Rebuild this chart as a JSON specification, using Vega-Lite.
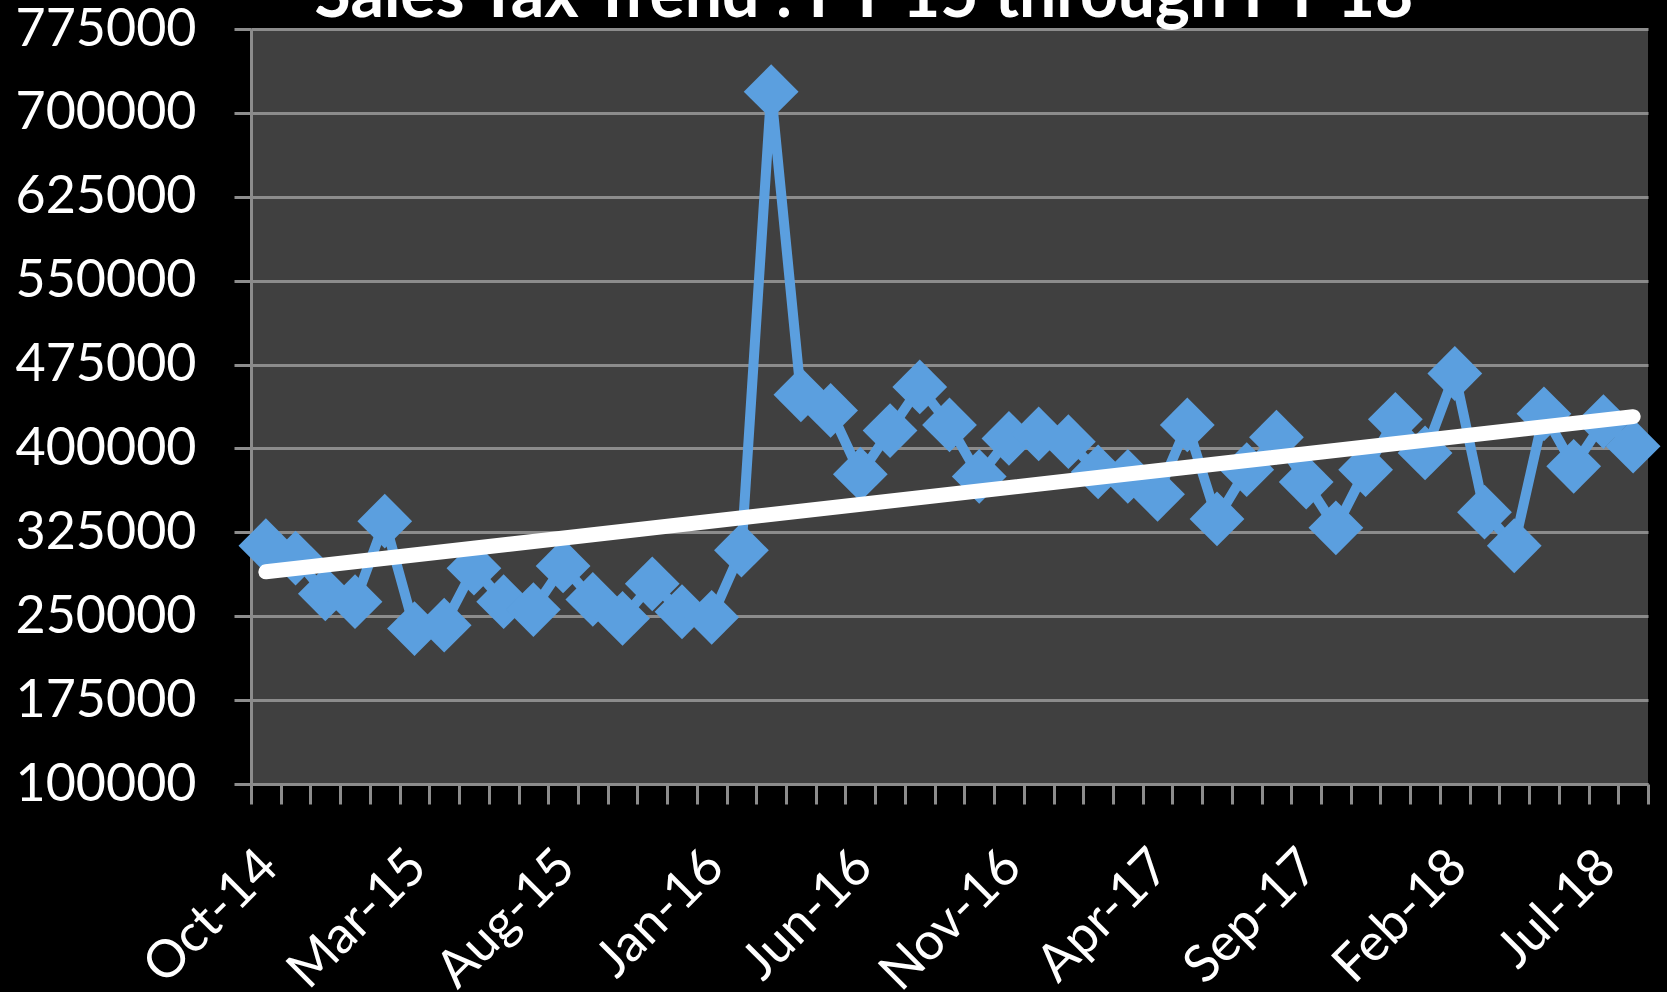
{
  "$schema": "https://vega.github.io/schema/vega-lite/v6.json",
  "width": 1397,
  "height": 755,
  "autosize": {"type": "none"},
  "padding": {"left": 251, "top": 29, "right": 19, "bottom": 208},
  "background": "#000000",
  "config": {"view": {"fill": "#404040", "stroke": null}, "font": "Lato"},
  "data": {"values": [
    {"i": 0, "month": "Oct-14", "sales": 313000},
    {"i": 1, "month": "Nov-14", "sales": 302000},
    {"i": 2, "month": "Dec-14", "sales": 270000},
    {"i": 3, "month": "Jan-15", "sales": 263000},
    {"i": 4, "month": "Feb-15", "sales": 335000},
    {"i": 5, "month": "Mar-15", "sales": 239000},
    {"i": 6, "month": "Apr-15", "sales": 242000},
    {"i": 7, "month": "May-15", "sales": 293000},
    {"i": 8, "month": "Jun-15", "sales": 263000},
    {"i": 9, "month": "Jul-15", "sales": 256000},
    {"i": 10, "month": "Aug-15", "sales": 295000},
    {"i": 11, "month": "Sep-15", "sales": 265000},
    {"i": 12, "month": "Oct-15", "sales": 248000},
    {"i": 13, "month": "Nov-15", "sales": 279000},
    {"i": 14, "month": "Dec-15", "sales": 254000},
    {"i": 15, "month": "Jan-16", "sales": 249000},
    {"i": 16, "month": "Feb-16", "sales": 309000},
    {"i": 17, "month": "Mar-16", "sales": 719000},
    {"i": 18, "month": "Apr-16", "sales": 448000},
    {"i": 19, "month": "May-16", "sales": 434000},
    {"i": 20, "month": "Jun-16", "sales": 377000},
    {"i": 21, "month": "Jul-16", "sales": 416000},
    {"i": 22, "month": "Aug-16", "sales": 455000},
    {"i": 23, "month": "Sep-16", "sales": 421000},
    {"i": 24, "month": "Oct-16", "sales": 375000},
    {"i": 25, "month": "Nov-16", "sales": 409000},
    {"i": 26, "month": "Dec-16", "sales": 413000},
    {"i": 27, "month": "Jan-17", "sales": 406000},
    {"i": 28, "month": "Feb-17", "sales": 379000},
    {"i": 29, "month": "Mar-17", "sales": 375000},
    {"i": 30, "month": "Apr-17", "sales": 359000},
    {"i": 31, "month": "May-17", "sales": 421000},
    {"i": 32, "month": "Jun-17", "sales": 337000},
    {"i": 33, "month": "Jul-17", "sales": 381000},
    {"i": 34, "month": "Aug-17", "sales": 410000},
    {"i": 35, "month": "Sep-17", "sales": 370000},
    {"i": 36, "month": "Oct-17", "sales": 329000},
    {"i": 37, "month": "Nov-17", "sales": 381000},
    {"i": 38, "month": "Dec-17", "sales": 426000},
    {"i": 39, "month": "Jan-18", "sales": 396000},
    {"i": 40, "month": "Feb-18", "sales": 467000},
    {"i": 41, "month": "Mar-18", "sales": 343000},
    {"i": 42, "month": "Apr-18", "sales": 313000},
    {"i": 43, "month": "May-18", "sales": 431000},
    {"i": 44, "month": "Jun-18", "sales": 384000},
    {"i": 45, "month": "Jul-18", "sales": 424000},
    {"i": 46, "month": "Aug-18", "sales": 402000}
  ]},
  "resolve": {"axis": {"x": "independent", "y": "independent"}},
  "layer": [
    {
      "mark": {"type": "line", "color": "#5B9FDF", "strokeWidth": 10, "strokeJoin": "miter"},
      "encoding": {
        "x": {"field": "i", "type": "quantitative", "scale": {"domain": [-0.5, 46.5], "nice": false, "zero": false},
          "axis": {"orient": "bottom", "title": null, "values": [-0.5,0.5,1.5,2.5,3.5,4.5,5.5,6.5,7.5,8.5,9.5,10.5,11.5,12.5,13.5,14.5,15.5,16.5,17.5,18.5,19.5,20.5,21.5,22.5,23.5,24.5,25.5,26.5,27.5,28.5,29.5,30.5,31.5,32.5,33.5,34.5,35.5,36.5,37.5,38.5,39.5,40.5,41.5,42.5,43.5,44.5,45.5,46.5],
            "labels": false, "grid": false, "ticks": true, "tickSize": 20, "tickWidth": 3, "tickColor": "#8c8c8c", "domain": true, "domainColor": "#8c8c8c", "domainWidth": 3}},
        "y": {"field": "sales", "type": "quantitative", "scale": {"domain": [100000, 775000], "nice": false, "zero": false},
          "axis": {"orient": "left", "title": null, "values": [100000,175000,250000,325000,400000,475000,550000,625000,700000,775000], "format": "d",
            "labelFont": "Lato", "labelFontSize": 52, "labelColor": "#ffffff", "labelPadding": 38, "labelBaseline": "middle", "labelLimit": 500,
            "tickSize": 17, "tickWidth": 3, "tickColor": "#8c8c8c", "grid": true, "gridColor": "#8c8c8c", "gridWidth": 3,
            "domain": true, "domainColor": "#8c8c8c", "domainWidth": 3}}
      }
    },
    {
      "mark": {"type": "point", "shape": "diamond", "filled": true, "size": 3000, "color": "#5B9FDF", "opacity": 1},
      "encoding": {
        "x": {"field": "i", "type": "quantitative",
          "axis": {"orient": "bottom", "title": null, "values": [0,5,10,15,20,25,30,35,40,45], "ticks": false, "domain": false, "grid": false,
            "labelExpr": "timeFormat(datetime(2014, 9 + datum.value, 1), '%b-%y')",
            "labelAngle": -45, "labelAlign": "right", "labelBaseline": "middle", "labelFont": "Lato", "labelFontSize": 52, "labelLimit": 500,
            "labelColor": "#ffffff", "labelPadding": 74, "labelOffset": 3, "labelOverlap": false, "labelFlush": false}},
        "y": {"field": "sales", "type": "quantitative", "axis": null}
      }
    },
    {
      "transform": [{"regression": "sales", "on": "i"}],
      "mark": {"type": "line", "color": "#ffffff", "strokeWidth": 15, "strokeCap": "round"},
      "encoding": {
        "x": {"field": "i", "type": "quantitative", "axis": null},
        "y": {"field": "sales", "type": "quantitative", "axis": null}
      }
    },
    {
      "data": {"values": [{"title": "Sales Tax Trend : FY 15 through FY 18"}]},
      "mark": {"type": "text", "font": "Lato", "fontSize": 66, "fontWeight": "bold", "color": "#ffffff", "align": "center", "baseline": "alphabetic", "clip": false},
      "encoding": {
        "x": {"datum": 20.12, "type": "quantitative", "axis": null},
        "y": {"datum": 786000, "type": "quantitative", "axis": null},
        "text": {"field": "title", "type": "nominal"}
      }
    }
  ]
}
